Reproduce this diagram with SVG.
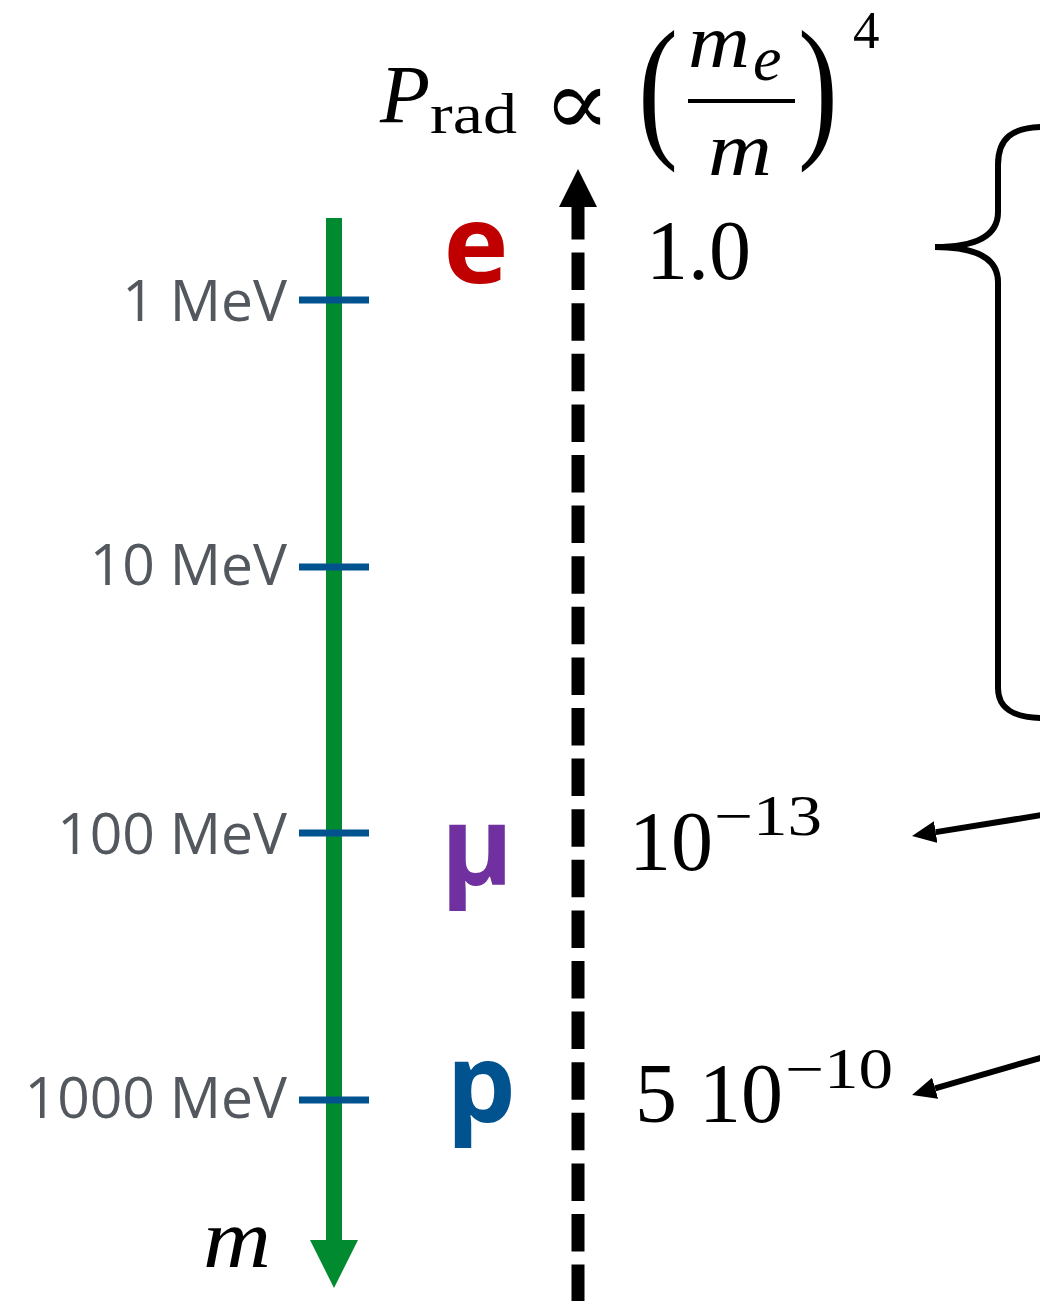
<svg xmlns="http://www.w3.org/2000/svg" width="1040" height="1301" viewBox="0 0 1040 1301">
<defs>
<style>
.mev{font-family:"Open Sans","Noto Sans",sans-serif;font-size:57px;fill:#53585e;text-anchor:end}
.part{font-family:"Open Sans","Noto Sans",sans-serif;font-size:110px;font-weight:bold;text-anchor:middle}
.cm{font-family:"Liberation Serif","DejaVu Serif",serif;fill:#000}
.it{font-style:italic}
.tick{stroke:#00538f;stroke-width:7}
.conn{stroke:#000;stroke-width:6;fill:none}
</style>
<marker id="ah" viewBox="0 0 24 22" markerWidth="24" markerHeight="22" markerUnits="userSpaceOnUse" refX="0" refY="11" orient="auto">
<path d="M0,0 L24,11 L0,22 z" fill="#000"/>
</marker>
</defs>
<rect width="1040" height="1301" fill="#fff"/>

<g id="formula">
<text class="cm it" x="380" y="122" font-size="82">P</text>
<text class="cm" x="430" y="133" font-size="58" textLength="87" lengthAdjust="spacingAndGlyphs">rad</text>
<text class="cm" x="543" y="135" font-size="94" textLength="68" lengthAdjust="spacingAndGlyphs">∝</text>
<text class="cm" font-size="100" transform="translate(638,139) scale(1.2,1.571)">(</text>
<text class="cm it" x="688" y="67" font-size="76" textLength="62" lengthAdjust="spacingAndGlyphs">m</text>
<text class="cm it" x="753" y="80" font-size="64">e</text>
<rect x="688" y="99" width="107" height="4" fill="#000"/>
<text class="cm it" x="708" y="175" font-size="76" textLength="64" lengthAdjust="spacingAndGlyphs">m</text>
<text class="cm" font-size="100" transform="translate(798,139) scale(1.2,1.571)">)</text>
<text class="cm" x="853" y="48" font-size="53">4</text>
</g>

<g id="mass-axis">
<line x1="334" y1="218" x2="334" y2="1245" stroke="#028a30" stroke-width="16"/>
<polygon points="310,1240 358,1240 334,1288" fill="#028a30"/>
<text class="cm it" x="203" y="1267" font-size="85" textLength="68" lengthAdjust="spacingAndGlyphs">m</text>
</g>

<g id="tick-1MeV">
<line class="tick" x1="299" y1="300" x2="369" y2="300"/>
<text class="mev" x="287" y="321">1 MeV</text>
</g>
<g id="tick-10MeV">
<line class="tick" x1="299" y1="567" x2="369" y2="567"/>
<text class="mev" x="287" y="585">10 MeV</text>
</g>
<g id="tick-100MeV">
<line class="tick" x1="299" y1="833" x2="369" y2="833"/>
<text class="mev" x="287" y="854">100 MeV</text>
</g>
<g id="tick-1000MeV">
<line class="tick" x1="299" y1="1100" x2="369" y2="1100"/>
<text class="mev" x="287" y="1118">1000 MeV</text>
</g>

<g id="electron"><text class="part" x="476" y="283" fill="#c00000">e</text></g>
<g id="muon"><text class="part" x="477" y="885" fill="#7030a0">μ</text></g>
<g id="proton"><text class="part" x="481" y="1122" fill="#00538f">p</text></g>

<g id="prad-axis">
<line x1="578" y1="202" x2="578" y2="1305" stroke="#000" stroke-width="13" stroke-dasharray="37.5 13.1"/>
<polygon points="559,207 597,207 578,169" fill="#000"/>
</g>

<g id="val-e"><text class="cm" x="646" y="279" font-size="84">1.0</text></g>
<g id="val-mu">
<text class="cm" x="629" y="870" font-size="84">10</text>
<text class="cm" x="714" y="835" font-size="56" textLength="108" lengthAdjust="spacingAndGlyphs">−13</text>
</g>
<g id="val-p">
<text class="cm" x="635" y="1122" font-size="84">5</text>
<text class="cm" x="699" y="1122" font-size="84">10</text>
<text class="cm" x="785" y="1088" font-size="56" textLength="108" lengthAdjust="spacingAndGlyphs">−10</text>
</g>

<g id="connectors">
<path class="conn" stroke-width="7" d="M1045 127 C1012 127 998 138 998 165 L998 212 C998 236 975 247 935 247 C975 247 998 258 998 282 L998 688 C998 708 1012 718 1045 718"/>
<line class="conn" x1="1042" y1="815" x2="935.7" y2="832.1" marker-end="url(#ah)"/>
<line class="conn" x1="1042" y1="1057.5" x2="935.1" y2="1088.3" marker-end="url(#ah)"/>
</g>
</svg>
